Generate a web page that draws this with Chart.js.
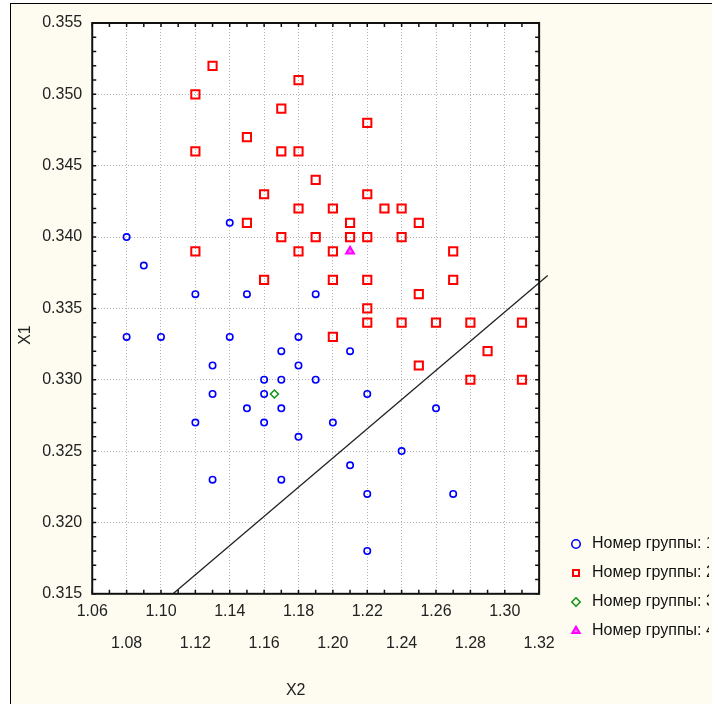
<!DOCTYPE html>
<html>
<head>
<meta charset="utf-8">
<script src="https://cdn.jsdelivr.net/npm/chart.js@4.4.1/dist/chart.umd.min.js"></script>
<style>
  html, body { margin: 0; padding: 0; background: #fff; }
  #wrap { position: relative; width: 712px; height: 704px; overflow: hidden; }
  #frame { position: absolute; left: 10px; top: 3px; right: -2px; bottom: -2px;
           border-left: 1px solid #000; border-top: 1px solid #000; background: #fefcf0; }
  #chart { position: absolute; left: 0; top: 0; }
</style>
</head>
<body>
<div id="wrap">
  <div id="frame"></div>
  <canvas id="chart" width="712" height="704"></canvas>
</div>
<script>
// Group 1 (blue circles)
const group1X = [1.08, 1.09, 1.14, 1.12, 1.15, 1.19, 1.08, 1.10, 1.14, 1.18, 1.17, 1.21,
                 1.13, 1.18, 1.16, 1.17, 1.19, 1.13, 1.16, 1.22, 1.15, 1.17, 1.26, 1.12,
                 1.16, 1.20, 1.18, 1.24, 1.21, 1.13, 1.17, 1.22, 1.27, 1.22];
const group1Y = [0.340, 0.338, 0.341, 0.336, 0.336, 0.336, 0.333, 0.333, 0.333, 0.333, 0.332, 0.332,
                 0.331, 0.331, 0.330, 0.330, 0.330, 0.329, 0.329, 0.329, 0.328, 0.328, 0.328, 0.327,
                 0.327, 0.327, 0.326, 0.325, 0.324, 0.323, 0.323, 0.322, 0.322, 0.318];

// Group 2 (red squares)
const group2X = [1.13, 1.12, 1.18, 1.17, 1.22, 1.15, 1.12, 1.17, 1.18, 1.19, 1.16, 1.22,
                 1.18, 1.20, 1.23, 1.24, 1.15, 1.21, 1.25, 1.17, 1.19, 1.21, 1.22, 1.24,
                 1.12, 1.18, 1.20, 1.27, 1.16, 1.20, 1.22, 1.27, 1.25, 1.22, 1.22, 1.24,
                 1.26, 1.28, 1.31, 1.20, 1.29, 1.25, 1.28, 1.31];
const group2Y = [0.352, 0.350, 0.351, 0.349, 0.348, 0.347, 0.346, 0.346, 0.346, 0.344, 0.343, 0.343,
                 0.342, 0.342, 0.342, 0.342, 0.341, 0.341, 0.341, 0.340, 0.340, 0.340, 0.340, 0.340,
                 0.339, 0.339, 0.339, 0.339, 0.337, 0.337, 0.337, 0.337, 0.336, 0.335, 0.334, 0.334,
                 0.334, 0.334, 0.334, 0.333, 0.332, 0.331, 0.330, 0.330];

// Group 3 (green diamond) and group 4 (magenta triangle)
const group3X = [1.166];
const group3Y = [0.329];
const group4X = [1.21];
const group4Y = [0.339];

// Separating line
const lineX = [1.107, 1.325];
const lineY = [0.315, 0.3373];

const groupLabels = ['Номер группы: 1', 'Номер группы: 2', 'Номер группы: 3', 'Номер группы: 4'];
const xTickLabels = ['1.06', '1.08', '1.10', '1.12', '1.14', '1.16', '1.18', '1.20', '1.22', '1.24', '1.26', '1.28', '1.30', '1.32'];
const yTickLabels = ['0.315', '0.320', '0.325', '0.330', '0.335', '0.340', '0.345', '0.350', '0.355'];

const toPoints = (xs, ys) => xs.map((x, i) => ({x: x, y: ys[i]}));

const font = 'Liberation Sans, Arial, sans-serif';
const gridColor = '#b4b4b4';

// white plot area, black frame and inward tick marks
const plotFrame = {
    id: 'plotFrame',
    beforeDraw(chart) {
        const a = chart.chartArea;
        chart.ctx.save();
        chart.ctx.fillStyle = '#ffffff';
        chart.ctx.fillRect(a.left, a.top, a.width, a.height);
        chart.ctx.restore();
    },
    afterDraw(chart) {
        const {ctx, chartArea: a, scales: {x, y}} = chart;
        ctx.save();
        ctx.strokeStyle = '#111';
        ctx.lineWidth = 1.5;
        ctx.beginPath();
        x.ticks.forEach(t => {
            const px = x.getPixelForValue(t.value);
            ctx.moveTo(px, a.bottom); ctx.lineTo(px, a.bottom - 4);
            ctx.moveTo(px, a.top); ctx.lineTo(px, a.top + 4);
        });
        y.ticks.forEach(t => {
            const py = y.getPixelForValue(t.value);
            ctx.moveTo(a.left, py); ctx.lineTo(a.left + 4, py);
            ctx.moveTo(a.right, py); ctx.lineTo(a.right - 4, py);
        });
        ctx.stroke();
        ctx.lineWidth = 2;
        ctx.strokeRect(a.left, a.top, a.width, a.height);
        ctx.restore();
    },
    afterLayout(chart) {
        // legend sits low on the right, like the original
        chart.legend.left = 555;
        chart.legend.top = 523;
    }
};

const ctx = document.getElementById('chart').getContext('2d');
const chart = new Chart(ctx, {
    type: 'scatter',
    data: {
        datasets: [{
            label: groupLabels[0],
            data: toPoints(group1X, group1Y),
            pointStyle: 'circle',
            pointRadius: 3.2,
            borderColor: '#0000ff',
            backgroundColor: 'rgba(0,0,0,0)',
            borderWidth: 1.6
        }, {
            label: groupLabels[1],
            data: toPoints(group2X, group2Y),
            pointStyle: 'rect',
            pointRadius: 5.8,
            borderColor: '#ff0000',
            backgroundColor: 'rgba(0,0,0,0)',
            borderWidth: 2
        }, {
            label: groupLabels[2],
            data: toPoints(group3X, group3Y),
            pointStyle: 'rectRot',
            pointRadius: 4,
            borderColor: '#109010',
            backgroundColor: 'rgba(0,0,0,0)',
            borderWidth: 1.5
        }, {
            label: groupLabels[3],
            data: toPoints(group4X, group4Y),
            pointStyle: 'triangle',
            pointRadius: 4.5,
            borderColor: '#ff00ff',
            backgroundColor: 'rgba(255,0,255,0.6)',
            borderWidth: 2
        }, {
            label: 'line',
            data: toPoints(lineX, lineY),
            showLine: true,
            pointRadius: 0,
            borderColor: '#222',
            borderWidth: 1.3,
            clip: false
        }]
    },
    options: {
        responsive: false,
        animation: false,
        layout: {
            padding: {left: 1, top: 23, right: 3, bottom: 0}
        },
        scales: {
            x: {
                type: 'linear',
                min: 1.06,
                max: 1.32,
                ticks: {
                    stepSize: 0.01,
                    autoSkip: false,
                    maxRotation: 0,
                    padding: 2,
                    color: '#222',
                    font: {family: font, size: 16, lineHeight: 2},
                    callback: function(value) {
                        const i = Math.round((value - 1.06) * 100);
                        if (i % 2 !== 0) return '';
                        const label = xTickLabels[i / 2];
                        return (i / 2) % 2 === 0 ? [label, ''] : ['', label];
                    }
                },
                grid: {
                    drawTicks: false,
                    color: c => (c.index % 2 === 0 ? gridColor : 'rgba(0,0,0,0)'),
                    lineWidth: 1
                },
                border: {display: false, dash: [1, 2]},
                title: {
                    display: true,
                    text: 'X2' + '\u00a0'.repeat(9),
                    color: '#222',
                    font: {family: font, size: 16},
                    padding: {top: 19, bottom: 4}
                }
            },
            y: {
                type: 'linear',
                min: 0.315,
                max: 0.355,
                ticks: {
                    stepSize: 0.001,
                    autoSkip: false,
                    padding: 10,
                    color: '#222',
                    font: {family: font, size: 16},
                    callback: function(value) {
                        const i = Math.round((value - 0.315) * 1000);
                        return i % 5 === 0 ? yTickLabels[i / 5] : '';
                    }
                },
                grid: {
                    drawTicks: false,
                    color: c => (c.index % 5 === 0 ? gridColor : 'rgba(0,0,0,0)'),
                    lineWidth: 1
                },
                border: {display: false, dash: [1, 2]},
                title: {
                    display: true,
                    text: 'X1' + '\u00a0'.repeat(12),
                    color: '#222',
                    font: {family: font, size: 16},
                    padding: {top: 15, bottom: -3}
                }
            }
        },
        plugins: {
            legend: {
                display: true,
                position: 'right',
                align: 'start',
                maxWidth: 176,
                labels: {
                    usePointStyle: true,
                    boxWidth: 16,
                    boxHeight: 6,
                    padding: 13,
                    color: '#111',
                    font: {family: font, size: 16},
                    filter: item => item.datasetIndex < 4
                }
            },
            tooltip: {enabled: false}
        }
    },
    plugins: [plotFrame]
});
</script>
</body>
</html>
